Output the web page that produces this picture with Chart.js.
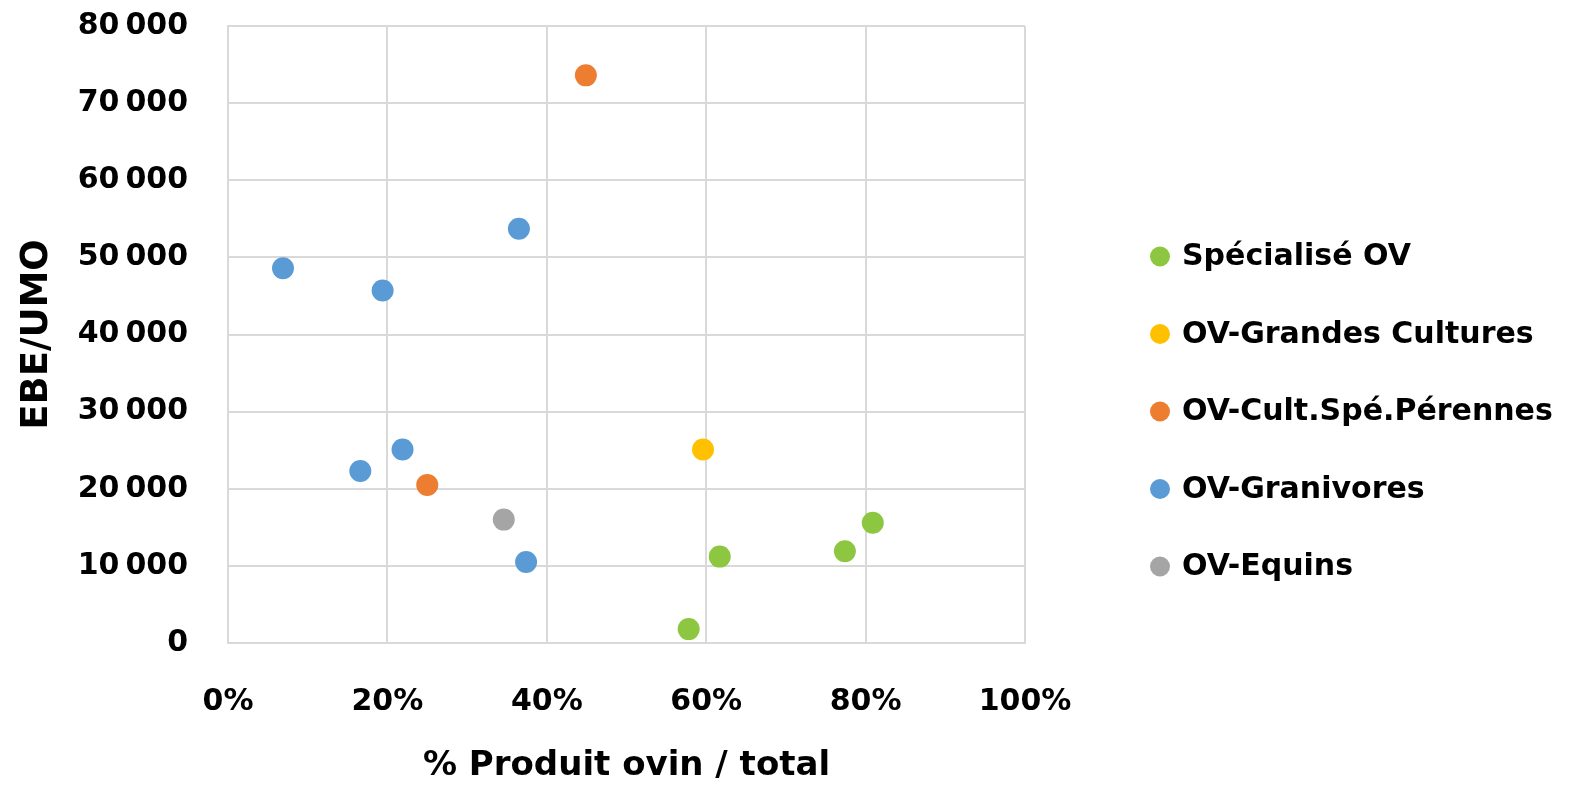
<!DOCTYPE html>
<html lang="fr">
<head>
<meta charset="utf-8">
<title>EBE/UMO selon la part du produit ovin</title>
<script src="https://cdn.jsdelivr.net/npm/chart.js@4.4.1/dist/chart.umd.min.js"></script>
<style>
  html, body { margin: 0; padding: 0; background: #ffffff; }
  #wrap { width: 1575px; height: 785px; }
</style>
</head>
<body>
<div id="wrap"><canvas id="chart" width="1575" height="785"></canvas></div>
<script>
// Part du produit ovin dans le produit total (%) et EBE par UMO (euros)
const seriesNames = ['Spécialisé OV', 'OV-Grandes Cultures', 'OV-Cult.Spé.Pérennes', 'OV-Granivores', 'OV-Equins'];

const specialiseX = [57.8, 61.7, 77.4, 80.9];
const specialiseY = [1800, 11200, 11900, 15600];

const grandesCulturesX = [59.6];
const grandesCulturesY = [25100];

const perennesX = [44.9, 25.0];
const perennesY = [73600, 20500];

const granivoresX = [6.9, 19.4, 36.5, 21.9, 16.6, 37.4];
const granivoresY = [48600, 45700, 53700, 25100, 22300, 10500];

const equinsX = [34.6];
const equinsY = [16000];

const xTicks = [0, 20, 40, 60, 80, 100];
const yTicks = [0, 10000, 20000, 30000, 40000, 50000, 60000, 70000, 80000];

const seriesColors = ['#8DC641', '#FFC000', '#ED7D31', '#5B9BD5', '#A5A5A5'];

const FONT = "'DejaVu Sans', sans-serif";
const GRID = '#D9D9D9';

function pairs(xs, ys) {
  return xs.map((x, i) => ({ x: x, y: ys[i] }));
}

function groupThousands(v) {
  return String(v).replace(/\B(?=(\d{3})+(?!\d))/g, '\u2009');
}

const seriesData = [
  pairs(specialiseX, specialiseY),
  pairs(grandesCulturesX, grandesCulturesY),
  pairs(perennesX, perennesY),
  pairs(granivoresX, granivoresY),
  pairs(equinsX, equinsY)
];

const datasets = seriesNames.map((name, i) => ({
  label: name,
  data: seriesData[i],
  xAxisID: 'x',
  yAxisID: 'y',
  backgroundColor: seriesColors[i],
  borderColor: seriesColors[i],
  borderWidth: 0,
  pointRadius: 11,
  pointHoverRadius: 11,
  pointStyle: 'circle'
}));

// Legend column to the right of the plot, one row per dataset
const sideLegend = {
  id: 'sideLegend',
  afterDraw(chart) {
    const { ctx, chartArea } = chart;
    const markerX = chartArea.right + 135;
    const textX = markerX + 22;
    const firstY = 256.5;
    const rowStep = 77.5;
    ctx.save();
    ctx.font = "bold 30px " + FONT;
    ctx.textBaseline = 'middle';
    ctx.textAlign = 'left';
    chart.data.datasets.forEach((ds, i) => {
      const y = firstY + i * rowStep;
      ctx.beginPath();
      ctx.arc(markerX, y, 10, 0, Math.PI * 2);
      ctx.fillStyle = ds.backgroundColor;
      ctx.fill();
      ctx.fillStyle = '#000';
      ctx.fillText(ds.label, textX, y + 1);
    });
    ctx.restore();
  }
};

new Chart(document.getElementById('chart'), {
  type: 'scatter',
  data: { datasets: datasets },
  plugins: [sideLegend],
  options: {
    responsive: false,
    animation: false,
    layout: { padding: { left: 0, top: 26, right: 550, bottom: 0 } },
    scales: {
      x: {
        type: 'linear',
        position: 'bottom',
        min: 0,
        max: 100,
        afterBuildTicks: (scale) => { scale.ticks = xTicks.map(v => ({ value: v })); },
        afterFit: (scale) => {
          scale.height = 142;
          scale.paddingLeft = 0;
          scale.paddingRight = 0;
        },
        ticks: {
          callback: (v) => v + '%',
          color: '#000',
          padding: 41,
          maxRotation: 0,
          font: { family: FONT, size: 30, weight: 'bold' }
        },
        grid: { color: GRID, lineWidth: 2, drawTicks: false },
        border: { color: GRID, width: 2 },
        title: {
          display: true,
          text: '% Produit ovin / total',
          color: '#000',
          padding: { top: 20, bottom: 2 },
          font: { family: FONT, size: 34, weight: 'bold', lineHeight: 1 }
        }
      },
      y: {
        type: 'linear',
        position: 'left',
        min: 0,
        max: 80000,
        afterBuildTicks: (scale) => { scale.ticks = yTicks.map(v => ({ value: v })); },
        afterFit: (scale) => {
          scale.width = 228;
          scale.paddingTop = 18;
          scale.paddingBottom = 18;
        },
        ticks: {
          callback: (v) => groupThousands(v),
          color: '#000',
          padding: 40,
          font: { family: FONT, size: 30, weight: 'bold' }
        },
        grid: { color: GRID, lineWidth: 2, drawTicks: false },
        border: { color: GRID, width: 2 },
        title: {
          display: true,
          text: 'EBE/UMO',
          color: '#000',
          padding: { top: 15, bottom: 0 },
          font: { family: FONT, size: 37, weight: 'bold' }
        }
      }
    },
    plugins: {
      tooltip: { enabled: false },
      legend: { display: false }
    }
  }
});
</script>
</body>
</html>
